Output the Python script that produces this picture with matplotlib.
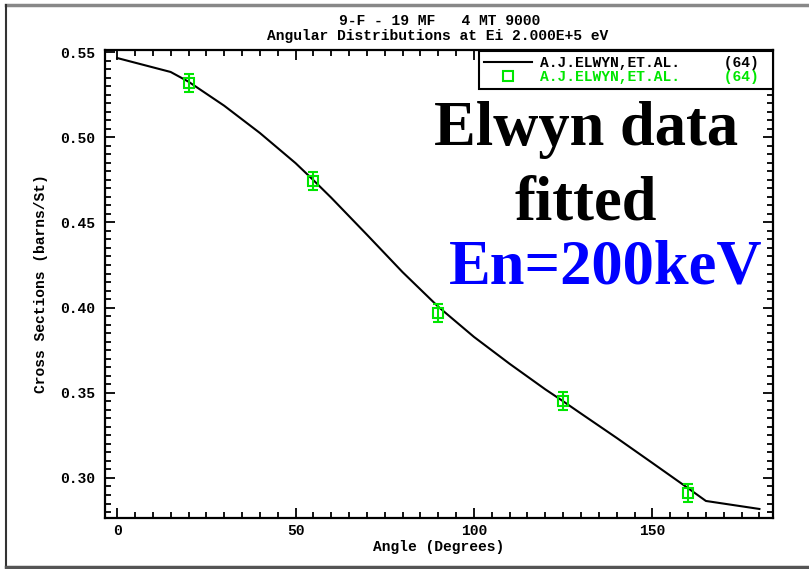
import numpy as np
import matplotlib
matplotlib.use('Agg')
import matplotlib.pyplot as plt
from matplotlib.lines import Line2D
from matplotlib.ticker import MultipleLocator

# fitted curve
fit_angle = [0, 15, 20, 30, 40, 50, 55, 60, 70, 80, 90, 100, 110, 120,
             125, 130, 140, 150, 160, 165, 180]
fit_xs = [0.5465, 0.5383, 0.5326, 0.5185, 0.5025, 0.4848, 0.4748, 0.4645,
          0.4428, 0.4208, 0.4005, 0.3828, 0.3670, 0.3520, 0.3450, 0.3378,
          0.3235, 0.3088, 0.2940, 0.2865, 0.2818]

# Elwyn data points
data_angle = [20, 55, 90, 125, 160]
data_xs = [0.5316, 0.4743, 0.3968, 0.3452, 0.2912]
data_err = [0.0053, 0.0053, 0.0053, 0.0053, 0.0055]

green = '#00e600'
mono = 'Liberation Mono'
lab_txt = 'A.J.ELWYN,ET.AL.     (64) '

W, H = 809, 569
fig = plt.figure(figsize=(W / 100, H / 100), dpi=100)
ax = fig.add_axes([105 / W, 1 - 518 / H, (773 - 105) / W, (518 - 50) / H])

ax.plot(fit_angle, fit_xs, color='black', lw=1.5, label=lab_txt)
ax.errorbar(data_angle, data_xs, yerr=data_err, fmt='none', ecolor=green,
            elinewidth=1.5, capsize=3.5, capthick=1.5)
ax.plot(data_angle, data_xs, 's', mfc='none', mec=green, ms=7, mew=1.5,
        label=lab_txt)

ax.set_xlim(-3.4, 183.8)
ax.set_ylim(0.2765, 0.5512)
ax.xaxis.set_major_locator(MultipleLocator(50))
ax.xaxis.set_minor_locator(MultipleLocator(5))
ax.yaxis.set_major_locator(MultipleLocator(0.05))
ax.yaxis.set_minor_locator(MultipleLocator(0.005))
ax.yaxis.set_major_formatter(plt.FormatStrFormatter('%.2f'))
ax.tick_params(which='both', direction='in', top=True, right=True, width=1.3)
ax.tick_params(which='major', length=7)
ax.tick_params(which='minor', length=4)
ax.tick_params(axis='y', pad=7)
ax.tick_params(axis='x', pad=4)
for lab in ax.get_xticklabels() + ax.get_yticklabels():
    lab.set_fontfamily(mono)
    lab.set_fontweight('bold')
    lab.set_fontsize(10.5)
for sp in ax.spines.values():
    sp.set_linewidth(1.6)

ax.set_xlabel('Angle (Degrees)', fontfamily=mono, fontweight='bold',
              fontsize=10.5, labelpad=2)
ax.set_ylabel('Cross Sections (barns/St)', fontfamily=mono, fontweight='bold',
              fontsize=10.5, labelpad=9)

leg = ax.legend(loc='upper right', bbox_to_anchor=(1.0, 0.998),
                borderaxespad=0, prop={'family': mono, 'weight': 'bold',
                                       'size': 10.5},
                handlelength=3.3, handletextpad=0.55, labelspacing=0.0,
                borderpad=0.35, fancybox=False, framealpha=1)
leg.get_frame().set_edgecolor('black')
leg.get_frame().set_linewidth(1.5)
leg.get_texts()[1].set_color(green)

# title lines
fig.text(440 / W, 1 - 21 / H, '9-F - 19 MF   4 MT 9000', ha='center',
         va='center', fontfamily=mono, fontweight='bold', fontsize=10.5)
fig.text(438 / W, 1 - 36 / H, 'Angular Distributions at Ei 2.000E+5 eV',
         ha='center', va='center', fontfamily=mono, fontweight='bold',
         fontsize=10.5)

# big annotations
big = dict(fontfamily='Liberation Serif', fontweight='bold', fontsize=45,
           ha='center', va='baseline')
fig.text(586 / W, 1 - 145 / H, 'Elwyn data', color='black', **big)
fig.text(586 / W, 1 - 220 / H, 'fitted', color='black', **big)
fig.text(606 / W, 1 - 283 / H, 'En=200keV', color='#0000ff', **big)

# outer frame
fig.add_artist(Line2D([6 / W, 1.0], [1 - 5 / H, 1 - 5 / H], color='#888888',
                      lw=2.5, transform=fig.transFigure))
fig.add_artist(Line2D([6 / W, 6 / W], [1 - 5 / H, 1 - 567 / H],
                      color='#333333', lw=1.5, transform=fig.transFigure))
fig.add_artist(Line2D([6 / W, 1.0], [1 - 567 / H, 1 - 567 / H],
                      color='#555555', lw=2.5, transform=fig.transFigure))

fig.savefig('out.png', dpi=100)
